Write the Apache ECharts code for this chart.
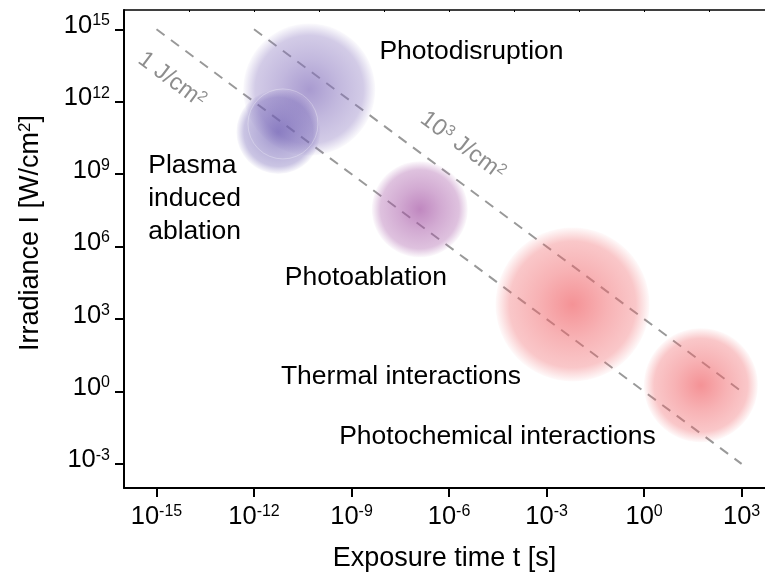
<!DOCTYPE html>
<html><head><meta charset="utf-8">
<script src="https://cdn.jsdelivr.net/npm/echarts@6/dist/echarts.min.js"></script>
<style>html,body{margin:0;padding:0;background:#fff}#c{width:765px;height:577px}</style>
</head><body><div id="c"></div>
<script>
// ---------- data ----------
const regimes = ['Photodisruption', 'Plasma induced ablation', 'Photoablation', 'Thermal interactions', 'Photochemical interactions'];
const exposureTime = [5.0e-11, 5.6e-12, 1.26e-7, 6.3e-3, 56];   // s
const irradiance   = [3.2e12, 5.6e10, 3.5e7, 4.0e3, 1.8];       // W/cm^2
const fluence1Time = [1e-15, 1e3];      // 1 J/cm^2 line
const fluence1Irr  = [1e15, 1e-3];
const fluence3Time = [1e-12, 1e3];      // 10^3 J/cm^2 line
const fluence3Irr  = [1e15, 1];
const xTickExp = [-15, -12, -9, -6, -3, 0, 3];
const yTickExp = [-3, 0, 3, 6, 9, 12, 15];
const topTickExp = [-16, -14, -12, -10, -8, -6, -4, -2, 0, 2];

// ---------- styles ----------
const FONT = 'Liberation Sans, Arial, sans-serif';
const bubbleRGB = [[132,112,188],[108,92,178],[165,85,165],[240,100,105],[240,100,105]];
const bubbleSize = [132, 84, 96, 154, 114];
const lg = Math.log10;
function grad(c){
  const f = a => 'rgba(' + c[0] + ',' + c[1] + ',' + c[2] + ',' + a + ')';
  return {type:'radial', x:0.5, y:0.5, r:0.5, colorStops:[
    {offset:0, color:f(0.88)}, {offset:0.45, color:f(0.62)},
    {offset:0.82, color:f(0.45)}, {offset:1, color:f(0.04)}]};
}
const rich = {
  b:{fontSize:25.5, fontFamily:FONT, color:'#000', verticalAlign:'bottom'},
  s:{fontSize:16, fontFamily:FONT, color:'#000', verticalAlign:'top'}
};
const richG = {
  b:{fontSize:23.5, fontFamily:FONT, color:'#707070', verticalAlign:'bottom'},
  s:{fontSize:15, fontFamily:FONT, color:'#707070', verticalAlign:'top'}
};
const powLabel = v => '{b|10}{s|' + v + '}';

const bubbleData = regimes.map((r, i) => ({
  name: r,
  value: [lg(exposureTime[i]), lg(irradiance[i])],
  symbolSize: bubbleSize[i],
  itemStyle: {color: grad(bubbleRGB[i])}
}));

// annotation anchors in axis (log10) units
const annotations = [
  {text:'Photodisruption', at:[-5.31, 14.06], pos:'inside'},
  {text:'Plasma\ninduced\nablation', at:[-15.27, 7.98], pos:'right'},
  {text:'Photoablation', at:[-8.56, 4.7], pos:'inside'},
  {text:'Thermal interactions', at:[-7.48, 0.62], pos:'inside'},
  {text:'Photochemical interactions', at:[-4.51, -1.86], pos:'inside'}
];
const lineLabels = [
  {text:'{b|1 J/cm}{s|2}', at:[-14.53, 12.9]},
  {text:'{b|10}{s|3}{b| J/cm}{s|2}', at:[-5.58, 10.17]}
];

const chart = echarts.init(document.getElementById('c'), null, {renderer:'canvas'});
chart.setOption({
  animation:false,
  backgroundColor:'#fff',
  grid:{left:124, top:10, right:0, bottom:89, containLabel:false},
  xAxis:[{
    type:'value', min:-16, max:3.72, position:'bottom',
    axisLine:{show:true, onZero:false, lineStyle:{color:'#000', width:2}},
    axisTick:{show:true, customValues:xTickExp, length:9, lineStyle:{color:'#000', width:2}},
    axisLabel:{customValues:xTickExp, formatter:powLabel, rich:rich, margin:16},
    splitLine:{show:false},
    name:'Exposure time t [s]', nameLocation:'middle', nameGap:57,
    nameTextStyle:{fontSize:27, fontFamily:FONT, color:'#000'}
  },{
    type:'value', min:-16, max:3.72, position:'top',
    axisLine:{show:true, onZero:false, lineStyle:{color:'#000', width:1.5}},
    axisTick:{show:true, inside:true, customValues:topTickExp, length:2, lineStyle:{color:'#000', width:1}},
    axisLabel:{show:false}, splitLine:{show:false}
  }],
  yAxis:[{
    type:'value', min:-4, max:15.8,
    axisLine:{show:true, onZero:false, lineStyle:{color:'#000', width:2}},
    axisTick:{show:true, customValues:yTickExp, length:9, lineStyle:{color:'#000', width:2}},
    axisLabel:{customValues:yTickExp, formatter:powLabel, rich:rich, margin:14, padding:[0,0,7,0]},
    splitLine:{show:false},
    name:'{b|Irradiance I [W/cm}{s|2}{b|]}', nameLocation:'middle', nameGap:80,
    nameTextStyle:{fontFamily:FONT, color:'#000', padding:[0,0,0,32],
      rich:{b:{fontSize:27, fontFamily:FONT, color:'#000', verticalAlign:'bottom'},
            s:{fontSize:17, fontFamily:FONT, color:'#000', verticalAlign:'top'}}}
  }],
  series:[
    {type:'line', name:'1 J/cm2', silent:true, symbol:'none', z:1,
     data: fluence1Time.map((t, i) => [lg(t), lg(fluence1Irr[i])]),
     lineStyle:{color:'#999', width:2, type:[10,8]}},
    {type:'line', name:'1000 J/cm2', silent:true, symbol:'none', z:1,
     data: fluence3Time.map((t, i) => [lg(t), lg(fluence3Irr[i])]),
     lineStyle:{color:'#999', width:2, type:[10,8]}},
    {type:'scatter', name:'regimes', silent:true, z:2, symbol:'circle',
     data: bubbleData},
    {type:'scatter', name:'ring', silent:true, z:3, symbol:'circle', symbolSize:70,
     data:[[-11.11, 11.08]],
     itemStyle:{color:'rgba(0,0,0,0)', borderColor:'rgba(255,255,255,0.35)', borderWidth:1}},
    {type:'scatter', name:'labels', silent:true, z:5, symbolSize:1,
     itemStyle:{color:'rgba(0,0,0,0)'},
     data: annotations.map(a => ({value:a.at, label:{
        show:true, position:a.pos, distance:0, formatter:a.text,
        fontSize:26.5, fontFamily:FONT, color:'#000', opacity:1, textBorderWidth:0, lineHeight:33,
        align: a.pos === 'right' ? 'left' : 'center'}}))},
    {type:'scatter', name:'lineLabels', silent:true, z:5, symbolSize:1,
     itemStyle:{color:'rgba(0,0,0,0)'},
     data: lineLabels.map(a => ({value:a.at, label:{
        show:true, position:'inside', formatter:a.text, rotate:-36.6, rich:richG, textBorderWidth:0}}))}
  ]
});
</script></body></html>
